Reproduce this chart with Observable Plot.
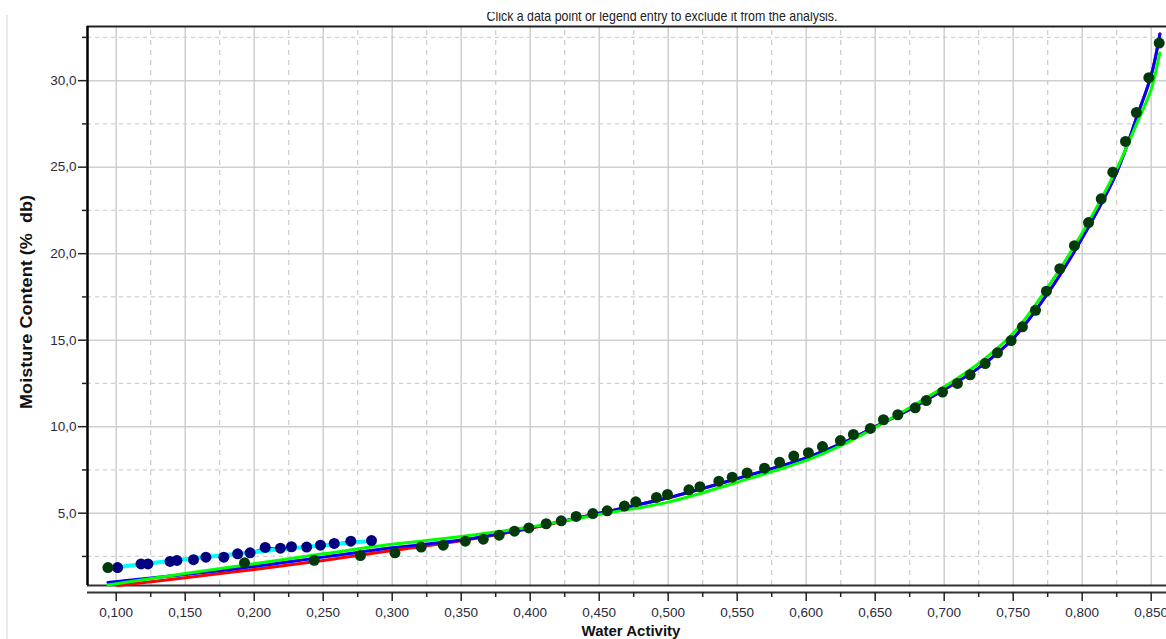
<!DOCTYPE html>
<html><head><meta charset="utf-8">
<script src="https://cdn.jsdelivr.net/npm/d3@7"></script>
<script src="https://cdn.jsdelivr.net/npm/@observablehq/plot@0.6"></script>
<style>
body{margin:0;background:#fff;overflow:hidden;}
#chart{position:relative;width:1166px;height:639px;}
</style></head><body><div id="chart"></div>
<script>
// ---- tick values ----
const xMajor = [0.10,0.15,0.20,0.25,0.30,0.35,0.40,0.45,0.50,0.55,0.60,0.65,0.70,0.75,0.80,0.85];
const xMinor = [0.125,0.175,0.225,0.275,0.325,0.375,0.425,0.475,0.525,0.575,0.625,0.675,0.725,0.775,0.825];
const yMajor = [5,10,15,20,25,30];
const yMinor = [2.5,7.5,12.5,17.5,22.5,27.5,32.5];

// ---- data points ----
const navyAw = [0.101,0.118,0.123,0.139,0.144,0.156,0.165,0.178,0.188,0.197,0.208,0.219,0.227,0.238,0.248,0.258,0.270,0.285];
const navyMc = [1.86,2.07,2.07,2.21,2.27,2.31,2.46,2.46,2.65,2.71,3.02,2.98,3.06,3.04,3.15,3.25,3.38,3.42];

const greenAw = [0.094,0.193,0.2435,0.277,0.302,0.321,0.337,0.353,0.366,0.3775,0.3886,0.399,0.4116,0.4225,0.4333,0.4454,0.4558,0.4683,0.4765,0.4915,0.4995,0.515,0.523,0.5367,0.5464,0.5572,0.5698,0.5807,0.591,0.6016,0.6118,0.6248,0.6342,0.6465,0.656,0.6664,0.679,0.687,0.6988,0.7096,0.7188,0.7297,0.7386,0.7485,0.7567,0.7662,0.7741,0.7838,0.7944,0.8046,0.8138,0.8222,0.8314,0.8393,0.8483,0.8558];
const greenMc = [1.86,2.13,2.28,2.55,2.71,3.04,3.15,3.38,3.50,3.73,3.96,4.15,4.39,4.56,4.81,4.98,5.14,5.41,5.66,5.91,6.08,6.35,6.53,6.85,7.08,7.33,7.60,7.95,8.30,8.5,8.85,9.2,9.55,9.9,10.4,10.69,11.09,11.51,12.0,12.5,13.0,13.65,14.27,14.98,15.77,16.73,17.83,19.13,20.46,21.80,23.17,24.71,26.49,28.16,30.17,32.17];

// ---- fitted curves ----
const cyanAw = [0.097,0.118,0.15,0.188,0.224,0.26,0.28];
const cyanMc = [1.83,2.05,2.34,2.65,2.95,3.22,3.36];
const orangeAw = [0.097,0.15,0.175,0.2,0.25,0.28];
const orangeMc = [1.86,2.33,2.58,2.74,3.13,3.33];

const redAw = [0.101,0.15,0.2,0.25,0.3,0.35,0.4,0.45,0.5,0.55,0.6,0.625,0.65,0.675,0.7,0.725,0.75,0.775,0.8,0.825,0.84,0.85,0.8563];
const redMc = [0.82,1.27,1.75,2.27,2.84,3.4,4.12,5.0,5.89,7.0,8.2,9.0,10.0,11.0,12.15,13.4,15.1,17.7,20.9,24.7,28.0,30.3,32.7];
const blueAw = [0.094,0.15,0.2,0.25,0.3,0.35,0.4,0.45,0.5,0.55,0.6,0.625,0.65,0.675,0.7,0.725,0.75,0.775,0.8,0.825,0.84,0.85,0.8563];
const blueMc = [1.0,1.46,1.92,2.46,3.0,3.45,4.15,5.0,5.89,7.0,8.2,9.0,10.0,11.0,12.15,13.4,15.1,17.7,20.9,24.7,28.0,30.3,32.7];
const limeAw = [0.094,0.15,0.2,0.25,0.3,0.35,0.4,0.45,0.5,0.55,0.6,0.625,0.65,0.675,0.7,0.725,0.75,0.775,0.8,0.825,0.84,0.85,0.8562];
const limeMc = [0.85,1.52,2.08,2.65,3.2,3.65,4.2,4.93,5.64,6.79,8.05,8.9,9.95,11.1,12.3,13.65,15.4,18.05,21.2,24.9,27.6,29.5,31.6];

const zip = (a, b) => a.map((v, i) => ({aw: v, mc: b[i]}));

// scale limits
const xMin = 0.0792, xMax = 0.8611;
const yAxisPos = 0.416, yBottom = 0.82, yTop = 33.13;

const fmtX = d => d.toFixed(3).replace(".", ",");
const fmtY = d => d.toFixed(1).replace(".", ",");

const grid = "#cfcfcf";
const chart = Plot.plot({
  width: 1166, height: 639,
  marginLeft: 87, marginRight: 0, marginTop: 26, marginBottom: 47,
  x: {domain: [xMin, xMax]},
  y: {domain: [yAxisPos, yTop]},
  style: {fontFamily: "'Liberation Sans', Arial, sans-serif", fontSize: "13.5px", color: "#2a2a3a", background: "#fff"},
  marks: [
    Plot.ruleX(xMinor, {y1: yBottom, y2: yTop, stroke: grid, strokeWidth: 1.3, strokeDasharray: "5,5"}),
    Plot.ruleX(xMajor, {y1: yBottom, y2: yTop, stroke: grid, strokeWidth: 1.5}),
    Plot.ruleY(yMinor, {x1: xMin, x2: xMax, stroke: grid, strokeWidth: 1.3, strokeDasharray: "4,4"}),
    Plot.ruleY(yMajor, {x1: xMin, x2: xMax, stroke: grid, strokeWidth: 1.5}),
    // frame lines
    Plot.ruleY([yTop], {x1: xMin, x2: xMax, stroke: "#222", strokeWidth: 2}),
    Plot.ruleY([yBottom], {x1: xMin, x2: xMax, stroke: "#333", strokeWidth: 2}),
    Plot.ruleY([yAxisPos], {x1: xMin, x2: xMax, stroke: "#333", strokeWidth: 2}),
    Plot.ruleX([xMin], {y1: yBottom, y2: yTop, stroke: "#000", strokeWidth: 2.5}),
    // axes
    Plot.axisY(yMajor, {anchor: "left", tickSize: 9, tickPadding: 2, tickFormat: fmtY, label: null, stroke: "#222", strokeWidth: 1.5}),
    Plot.axisY(yMinor, {anchor: "left", tickSize: 5, tickFormat: () => "", label: null, stroke: "#222", strokeWidth: 1.5}),
    Plot.axisX(xMajor, {anchor: "bottom", tickSize: 9, tickPadding: 6, tickFormat: fmtX, label: null, stroke: "#222", strokeWidth: 1.5}),
    Plot.axisX(xMinor, {anchor: "bottom", tickSize: 5, tickFormat: () => "", label: null, stroke: "#222", strokeWidth: 1.5}),
    // fit curves
    Plot.line(zip(navyAw, navyMc), {x: "aw", y: "mc", stroke: "#8a1a8a", strokeWidth: 1.5}),
    Plot.line(zip(orangeAw, orangeMc), {x: "aw", y: "mc", stroke: "#ff9900", strokeWidth: 1.5, curve: "catmull-rom"}),
    Plot.line(zip(cyanAw, cyanMc), {x: "aw", y: "mc", stroke: "#00ffff", strokeWidth: 4, curve: "catmull-rom"}),
    Plot.line(zip(redAw, redMc), {x: "aw", y: "mc", stroke: "#ff0000", strokeWidth: 3, curve: "catmull-rom"}),
    Plot.line(zip(blueAw, blueMc), {x: "aw", y: "mc", stroke: "#0000ff", strokeWidth: 3, curve: "catmull-rom"}),
    Plot.line(zip(limeAw, limeMc), {x: "aw", y: "mc", stroke: "#00ff00", strokeWidth: 3, curve: "catmull-rom"}),
    // points
    Plot.dot(zip(navyAw, navyMc), {x: "aw", y: "mc", r: 5.5, fill: "#000080", stroke: "none"}),
    Plot.dot(zip(greenAw, greenMc), {x: "aw", y: "mc", r: 5.5, fill: "#033a0b", stroke: "none"})
  ]
});
document.getElementById("chart").appendChild(chart);

const svg = d3.select(chart);
svg.append("line").attr("x1", 7).attr("x2", 7).attr("y1", 15).attr("y2", 639)
  .attr("stroke", "#e2e2e2").attr("stroke-width", 1.5);
svg.append("text").attr("x", 662).attr("y", 21).attr("text-anchor", "middle")
  .attr("textLength", 351).attr("lengthAdjust", "spacingAndGlyphs")
  .style("font", "15px 'Liberation Sans', Arial, sans-serif").attr("fill", "#222")
  .text("Click a data point or legend entry to exclude it from the analysis.");
svg.append("rect").attr("x", 0).attr("y", 0).attr("width", 1166).attr("height", 12).attr("fill", "#fff");
svg.append("text").attr("x", 631).attr("y", 636).attr("text-anchor", "middle")
  .style("font", "bold 15px 'Liberation Sans', Arial, sans-serif").attr("fill", "#111")
  .text("Water Activity");
svg.append("text").attr("transform", "translate(32,302) rotate(-90)").attr("text-anchor", "middle")
  .attr("textLength", 214).attr("lengthAdjust", "spacingAndGlyphs")
  .style("font", "bold 16px 'Liberation Sans', Arial, sans-serif").attr("fill", "#111")
  .attr("xml:space", "preserve").style("white-space", "pre")
  .text("Moisture Content (%  db)");
</script>
</body></html>
